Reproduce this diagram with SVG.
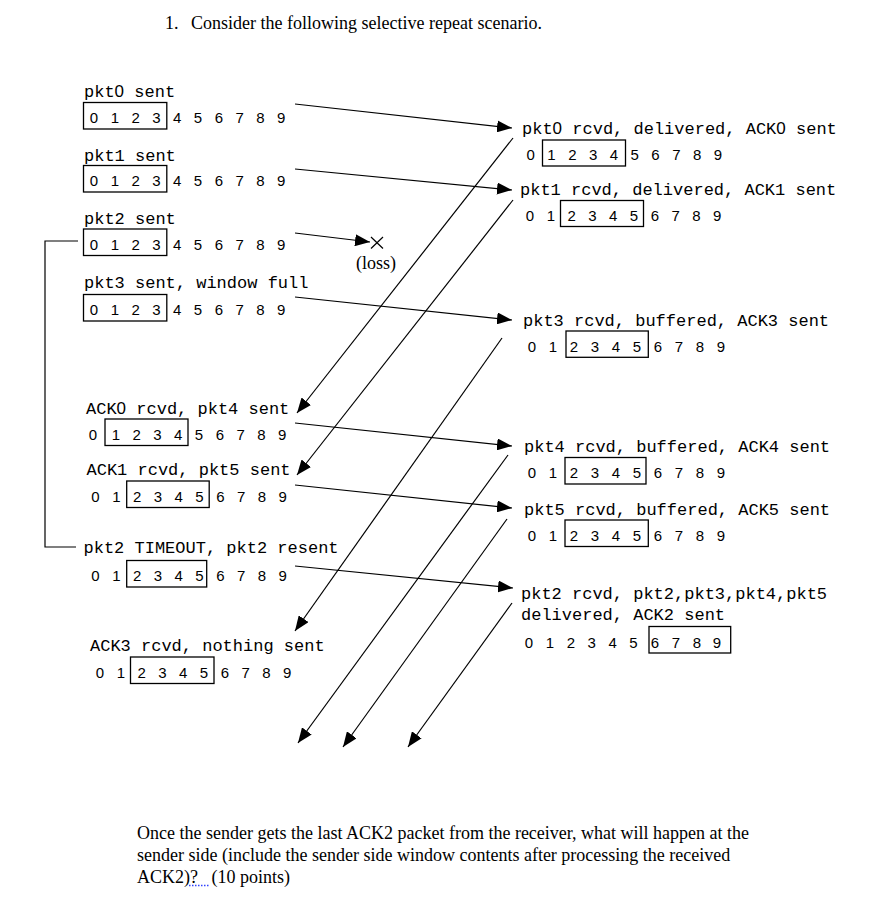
<svg xmlns="http://www.w3.org/2000/svg" width="894" height="900" viewBox="0 0 894 900">
<style>
.lbl{font-family:"Liberation Mono","DejaVu Sans Mono",monospace;font-size:17px;fill:#000}
.z{font-family:"Liberation Sans",Arial,sans-serif}
.d{font-family:"Liberation Sans",Arial,sans-serif;font-size:15px;fill:#000;text-anchor:middle}
.tm{font-family:"Liberation Serif","Times New Roman",serif;font-size:18px;fill:#000}
.win{fill:none;stroke:#000;stroke-width:1.3}
.ln{fill:none;stroke:#000;stroke-width:1.2}
.ar{fill:none;stroke:#000;stroke-width:1.2;marker-end:url(#ah)}
</style>
<defs>
<marker id="ah" markerUnits="userSpaceOnUse" markerWidth="16" markerHeight="12" refX="15" refY="6" orient="auto"><path d="M0,0 L15,6 L0,12 z" fill="#000"/></marker>
</defs>
<rect x="0" y="0" width="894" height="900" fill="#fff"/>

<text class="tm" x="165" y="29">1.</text>
<text class="tm" x="191" y="29">Consider the following selective repeat scenario.</text>

<g id="s-pkt0">
<text class="lbl" x="84" y="97">pkt<tspan class="z">0</tspan> sent</text>
<rect class="win" x="83.5" y="102.5" width="83.3" height="26.5"/>
<text class="d" y="123" x="94 114.8 135.6 156.4 177.2 198 218.8 239.6 260.4 281.2">0123456789</text>
</g>
<g id="s-pkt1">
<text class="lbl" x="84" y="160.5">pkt1 sent</text>
<rect class="win" x="83.5" y="165.5" width="83.3" height="26.5"/>
<text class="d" y="186" x="94 114.8 135.6 156.4 177.2 198 218.8 239.6 260.4 281.2">0123456789</text>
</g>
<g id="s-pkt2">
<text class="lbl" x="84" y="224">pkt2 sent</text>
<rect class="win" x="83.5" y="229" width="83.3" height="26.5"/>
<text class="d" y="249.5" x="94 114.8 135.6 156.4 177.2 198 218.8 239.6 260.4 281.2">0123456789</text>
</g>
<g id="s-pkt3">
<text class="lbl" x="84" y="288">pkt3 sent, window full</text>
<rect class="win" x="83.5" y="294.5" width="83.3" height="26.5"/>
<text class="d" y="315" x="94 114.8 135.6 156.4 177.2 198 218.8 239.6 260.4 281.2">0123456789</text>
</g>
<g id="s-ack0">
<text class="lbl" x="86" y="414">ACK<tspan class="z">0</tspan> rcvd, pkt4 sent</text>
<rect class="win" x="105" y="419" width="83" height="26.5"/>
<text class="d" y="439.5" x="93 115.8 136.6 157.4 178.2 199 219.8 240.6 261.4 282.2">0123456789</text>
</g>
<g id="s-ack1">
<text class="lbl" x="86.5" y="475">ACK1 rcvd, pkt5 sent</text>
<rect class="win" x="126.7" y="481" width="82.5" height="26.5"/>
<text class="d" y="501.5" x="95.5 116.3 137.1 157.9 178.7 199.5 220.3 241.1 261.9 282.7">0123456789</text>
</g>
<g id="s-timeout">
<text class="lbl" x="83.5" y="553">pkt2 TIMEOUT, pkt2 resent</text>
<rect class="win" x="126.7" y="560.5" width="80" height="26.5"/>
<text class="d" y="581" x="95.5 116.3 137.1 157.9 178.7 199.5 220.3 241.1 261.9 282.7">0123456789</text>
</g>
<g id="s-ack3">
<text class="lbl" x="90" y="651">ACK3 rcvd, nothing sent</text>
<rect class="win" x="130.5" y="657" width="83.5" height="26.5"/>
<text class="d" y="677.5" x="100 120.8 141.6 162.4 183.2 204 224.8 245.6 266.4 287.2">0123456789</text>
</g>

<g id="r-pkt0">
<text class="lbl" x="522" y="134">pkt<tspan class="z">0</tspan> rcvd, delivered, ACK<tspan class="z">0</tspan> sent</text>
<rect class="win" x="542.5" y="140" width="83" height="26"/>
<text class="d" y="160" x="530.7 551.5 572.3 593.1 613.9 634.7 655.5 676.3 697.1 717.9">0123456789</text>
</g>
<g id="r-pkt1">
<text class="lbl" x="520" y="195">pkt1 rcvd, delivered, ACK1 sent</text>
<rect class="win" x="560.5" y="200.5" width="83" height="26"/>
<text class="d" y="221" x="530 550.8 571.6 592.4 613.2 634 654.8 675.6 696.4 717.2">0123456789</text>
</g>
<g id="r-pkt3">
<text class="lbl" x="523" y="326">pkt3 rcvd, buffered, ACK3 sent</text>
<rect class="win" x="566" y="331" width="82.3" height="26.3"/>
<text class="d" y="352" x="532 553 574 595 616 637 658 679 700 721">0123456789</text>
</g>
<g id="r-pkt4">
<text class="lbl" x="524" y="452">pkt4 rcvd, buffered, ACK4 sent</text>
<rect class="win" x="565" y="457.5" width="81" height="26.5"/>
<text class="d" y="478" x="532 553 574 595 616 637 658 679 700 721">0123456789</text>
</g>
<g id="r-pkt5">
<text class="lbl" x="524" y="515">pkt5 rcvd, buffered, ACK5 sent</text>
<rect class="win" x="565" y="520" width="83.3" height="26.5"/>
<text class="d" y="540.5" x="532 553 574 595 616 637 658 679 700 721">0123456789</text>
</g>
<g id="r-pkt2">
<text class="lbl" x="521" y="599">pkt2 rcvd, pkt2,pkt3,pkt4,pkt5</text>
<text class="lbl" x="521" y="620">delivered, ACK2 sent</text>
<rect class="win" x="649" y="626.5" width="81.7" height="26.5"/>
<text class="d" y="647.5" x="529 549.9 570.8 591.7 612.6 633.5 655 676 696.8 717">0123456789</text>
</g>

<g id="loss">
<path class="ln" d="M371,237 L383,248.5 M383,237 L371,248.5"/>
<text class="tm" x="376" y="268.5" text-anchor="middle">(loss)</text>
</g>

<g id="connectors">
<polyline class="ln" points="78,241 45,241 45,547 76,547"/>
<line class="ar" x1="295" y1="104" x2="512" y2="128"/>
<line class="ar" x1="295" y1="169" x2="512" y2="190"/>
<line class="ar" x1="295" y1="233" x2="370" y2="242"/>
<line class="ar" x1="295" y1="297" x2="512" y2="320"/>
<line class="ar" x1="295" y1="423" x2="512" y2="446"/>
<line class="ar" x1="295" y1="485" x2="512" y2="508"/>
<line class="ar" x1="295" y1="566" x2="513" y2="588"/>
<line class="ar" x1="513" y1="138" x2="297" y2="413"/>
<line class="ar" x1="513" y1="200" x2="297" y2="475"/>
<line class="ar" x1="502" y1="338" x2="295" y2="631"/>
<line class="ar" x1="508" y1="455" x2="298" y2="743"/>
<line class="ar" x1="507" y1="519" x2="343" y2="747"/>
<line class="ar" x1="512" y1="603" x2="408" y2="747"/>
</g>

<text class="tm" x="137" y="839">Once the sender gets the last ACK2 packet from the receiver, what will happen at the</text>
<text class="tm" x="137" y="861">sender side (include the sender side window contents after processing the received</text>
<text class="tm" x="137" y="883" xml:space="preserve">ACK2)?   (10 points)</text>
<line x1="189" y1="885.5" x2="210" y2="885.5" stroke="#3344ff" stroke-width="1.5" stroke-dasharray="1.5,1.5"/>
</svg>
